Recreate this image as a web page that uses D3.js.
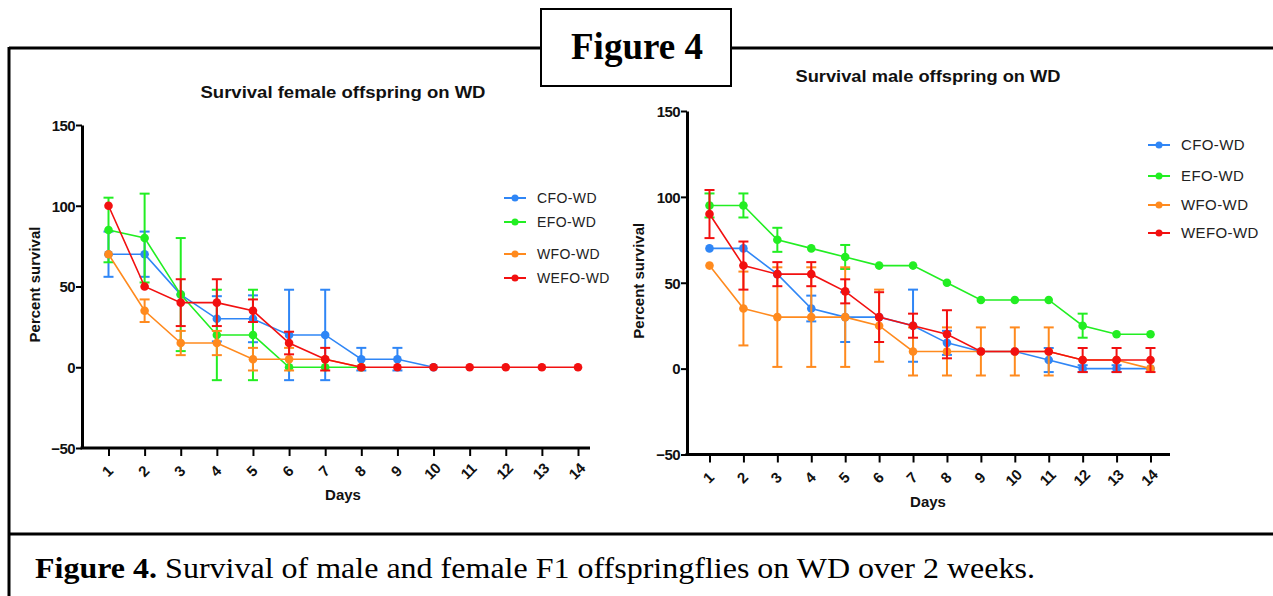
<!DOCTYPE html>
<html>
<head>
<meta charset="utf-8">
<script src="https://cdn.jsdelivr.net/npm/d3@7"></script>
<style>
  body { margin: 0; background: #fff; }
  svg { display: block; }
</style>
</head>
<body>
<div id="fig"></div>
<script>
// days on the x axis
const days = [1, 2, 3, 4, 5, 6, 7, 8, 9, 10, 11, 12, 13, 14];
const yTicks = [-50, 0, 50, 100, 150];
const groups = ["CFO-WD", "EFO-WD", "WFO-WD", "WEFO-WD"];
const colors = ["#2f86f6", "#22ee22", "#ff8a1e", "#f21010"];

// female offspring, percent survival and error (SD) per day
const femaleCFO = [70, 70, 45, 30, 30, 20, 20, 5, 5, 0];
const femaleCFOErr = [14, 14, 0, 14, 14.5, 28, 28, 7, 7, 0];
const femaleEFO = [85, 80, 45, 20, 20, 0, 0, 0];
const femaleEFOErr = [20, 27.5, 35, 28, 28, 0, 0, 0];
const femaleWFO = [70, 35, 15, 15, 5, 5, 5, 0];
const femaleWFOErr = [0, 7, 7.5, 7.5, 7, 7, 0, 0];
const femaleWEFO = [100, 50, 40, 40, 35, 15, 5, 0, 0, 0, 0, 0, 0, 0];
const femaleWEFOErr = [0, 0, 14.5, 14.5, 7, 7, 7, 0, 0, 0, 0, 0, 0, 0];

// male offspring
const maleCFO = [70, 70, 55, 35, 30, 30, 25, 15, 10, 10, 5, 0, 0, 0];
const maleCFOErr = [0, 0, 0, 7.5, 14.5, 0, 21, 7, 0, 0, 7, 2, 2, 0];
const maleEFO = [95, 95, 75, 70, 65, 60, 60, 50, 40, 40, 40, 25, 20, 20];
const maleEFOErr = [7, 7, 7, 0, 7, 0, 0, 0, 0, 0, 0, 7, 0, 0];
const maleWFO = [60, 35, 30, 30, 30, 25, 10, 10, 10, 10, 10, 5, 5, 0];
const maleWFOErr = [0, 21.5, 29, 29, 29, 21, 14, 14, 14, 14, 14, 0, 0, 0];
const maleWEFO = [90, 60, 55, 55, 45, 30, 25, 20, 10, 10, 10, 5, 5, 5];
const maleWEFOErr = [14, 14, 7, 7, 7, 14.5, 7, 14, 0, 0, 0, 7, 7, 7];

const W = 1273, H = 596;
const svg = d3.select("#fig").append("svg")
  .attr("width", W).attr("height", H);

svg.append("rect").attr("width", W).attr("height", H).attr("fill", "#fff");

// frame around the figure
const frame = svg.append("g").attr("stroke", "#000").attr("fill", "none");
frame.append("line").attr("x1", 9).attr("y1", 48).attr("x2", 541).attr("y2", 48).attr("stroke-width", 3);
frame.append("line").attr("x1", 731).attr("y1", 48).attr("x2", W).attr("y2", 48).attr("stroke-width", 3);
frame.append("line").attr("x1", 9).attr("y1", 47).attr("x2", 9).attr("y2", H).attr("stroke-width", 3);
frame.append("line").attr("x1", 9).attr("y1", 534).attr("x2", W).attr("y2", 534).attr("stroke-width", 3);
frame.append("rect").attr("x", 541).attr("y", 9).attr("width", 190).attr("height", 77)
  .attr("fill", "#fff").attr("stroke-width", 2);

svg.append("text")
  .attr("x", 637).attr("y", 59)
  .attr("text-anchor", "middle")
  .attr("textLength", 132).attr("lengthAdjust", "spacingAndGlyphs")
  .style("font-family", "'Liberation Serif', 'Times New Roman', serif")
  .style("font-weight", "bold").style("font-size", "37px")
  .text("Figure 4");

const cap = svg.append("text")
  .attr("x", 35).attr("y", 578)
  .attr("textLength", 1000).attr("lengthAdjust", "spacingAndGlyphs")
  .style("font-family", "'Liberation Serif', 'Times New Roman', serif")
  .style("font-size", "30px");
cap.append("tspan").style("font-weight", "bold").text("Figure 4.");
cap.append("tspan").text(" Survival of male and female F1 offspringflies on WD over 2 weeks.");

const sansBold = "'Liberation Sans', Arial, sans-serif";

const makeChart = (cfg) => {
  const g = svg.append("g");
  const y = d3.scaleLinear().domain([-50, 150]).range([cfg.bottom, cfg.top]);
  const x = d3.scaleLinear().domain([1, 14]).range([cfg.day1, cfg.day14]);

  // y axis
  const ya = g.append("g")
    .attr("transform", `translate(${cfg.left},0)`)
    .call(d3.axisLeft(y).tickValues(yTicks).tickSize(6).tickSizeOuter(0).tickPadding(1));
  ya.attr("font-size", null).attr("font-family", null);
  ya.select(".domain").attr("stroke-width", 3);
  ya.selectAll(".tick line").attr("stroke-width", 2);
  ya.selectAll(".tick text")
    .attr("dy", "0.35em")
    .style("font-family", sansBold).style("font-weight", "bold")
    .style("font-size", "15px").style("letter-spacing", "-0.6px").attr("fill", "#111");

  // x axis
  const xa = g.append("g")
    .attr("transform", `translate(0,${cfg.bottom})`)
    .call(d3.axisBottom(x).tickValues(days).tickSize(8).tickSizeOuter(0));
  xa.attr("font-size", null).attr("font-family", null);
  xa.select(".domain").remove();
  xa.append("line").attr("x1", cfg.left - 1.5).attr("x2", cfg.right)
    .attr("stroke", "#000").attr("stroke-width", 3);
  xa.selectAll(".tick line").attr("stroke-width", 2);
  xa.selectAll(".tick text")
    .attr("y", 0).attr("dy", 0)
    .attr("text-anchor", "middle")
    .attr("transform", "translate(2,27) rotate(-45)")
    .style("font-family", sansBold).style("font-weight", "bold")
    .style("font-size", "15px").style("letter-spacing", "-0.6px").attr("fill", "#111");

  // titles
  g.append("text").attr("x", cfg.titleX).attr("y", cfg.titleY)
    .attr("text-anchor", "middle")
    .attr("textLength", cfg.titleLen).attr("lengthAdjust", "spacingAndGlyphs")
    .style("font-family", sansBold).style("font-weight", "bold").style("font-size", "16px")
    .attr("fill", "#111")
    .text(cfg.title);
  g.append("text").attr("x", cfg.titleX).attr("y", cfg.daysY)
    .attr("text-anchor", "middle")
    .style("font-family", sansBold).style("font-weight", "bold").style("font-size", "15px")
    .attr("fill", "#111")
    .text("Days");
  g.append("text")
    .attr("transform", `translate(${cfg.ylabX},${(cfg.top + cfg.bottom) / 2 - 2}) rotate(-90)`)
    .attr("text-anchor", "middle")
    .style("font-family", sansBold).style("font-weight", "bold").style("font-size", "15px")
    .attr("fill", "#111")
    .text("Percent survival");

  // series
  cfg.series.forEach((s, i) => {
    const pts = s.vals.map((v, k) => ({ day: days[k], v: v, e: s.errs[k] }));
    const sg = g.append("g");
    const bars = pts.filter(d => d.e > 0);
    sg.selectAll(".err").data(bars).enter().append("line")
      .attr("x1", d => x(d.day)).attr("x2", d => x(d.day))
      .attr("y1", d => y(d.v - d.e)).attr("y2", d => y(d.v + d.e))
      .attr("stroke", colors[i]).attr("stroke-width", 2);
    [-1, 1].forEach(sign => {
      sg.selectAll(".cap" + sign).data(bars).enter().append("line")
        .attr("x1", d => x(d.day) - 5).attr("x2", d => x(d.day) + 5)
        .attr("y1", d => y(d.v + sign * d.e)).attr("y2", d => y(d.v + sign * d.e))
        .attr("stroke", colors[i]).attr("stroke-width", 2);
    });
    sg.append("path").datum(pts)
      .attr("d", d3.line().x(d => x(d.day)).y(d => y(d.v)))
      .attr("fill", "none").attr("stroke", colors[i]).attr("stroke-width", 1.6);
    sg.selectAll("circle").data(pts).enter().append("circle")
      .attr("cx", d => x(d.day)).attr("cy", d => y(d.v)).attr("r", 4.3)
      .attr("fill", colors[i]);
  });

  // legend
  const lg = g.append("g");
  groups.forEach((name, i) => {
    const ly = cfg.legendY[i];
    lg.append("line").attr("x1", cfg.legendX - 11).attr("x2", cfg.legendX + 11)
      .attr("y1", ly).attr("y2", ly).attr("stroke", colors[i]).attr("stroke-width", 2);
    lg.append("circle").attr("cx", cfg.legendX).attr("cy", ly).attr("r", 3.5).attr("fill", colors[i]);
    lg.append("text").attr("x", cfg.legendX + 22).attr("y", ly + 5)
      .style("font-family", "'Liberation Sans', Arial, sans-serif")
      .style("font-size", cfg.legendSize).style("letter-spacing", "0.4px")
      .attr("fill", "#222")
      .text(name);
  });
};

makeChart({
  left: 82, right: 590, top: 125, bottom: 448, day1: 108.5, day14: 578,
  title: "Survival female offspring on WD", titleX: 343, titleY: 98, titleLen: 285,
  daysY: 500, ylabX: 40,
  legendX: 515, legendY: [198, 222, 254, 278], legendSize: "14px",
  series: [
    { vals: femaleCFO, errs: femaleCFOErr },
    { vals: femaleEFO, errs: femaleEFOErr },
    { vals: femaleWFO, errs: femaleWFOErr },
    { vals: femaleWEFO, errs: femaleWEFOErr }
  ]
});

makeChart({
  left: 687, right: 1170, top: 111, bottom: 454.5, day1: 709.5, day14: 1150.5,
  title: "Survival male offspring on WD", titleX: 928, titleY: 82, titleLen: 265,
  daysY: 507, ylabX: 644,
  legendX: 1159, legendY: [145, 176, 205, 233], legendSize: "15px",
  series: [
    { vals: maleCFO, errs: maleCFOErr },
    { vals: maleEFO, errs: maleEFOErr },
    { vals: maleWFO, errs: maleWFOErr },
    { vals: maleWEFO, errs: maleWEFOErr }
  ]
});
</script>
</body>
</html>
